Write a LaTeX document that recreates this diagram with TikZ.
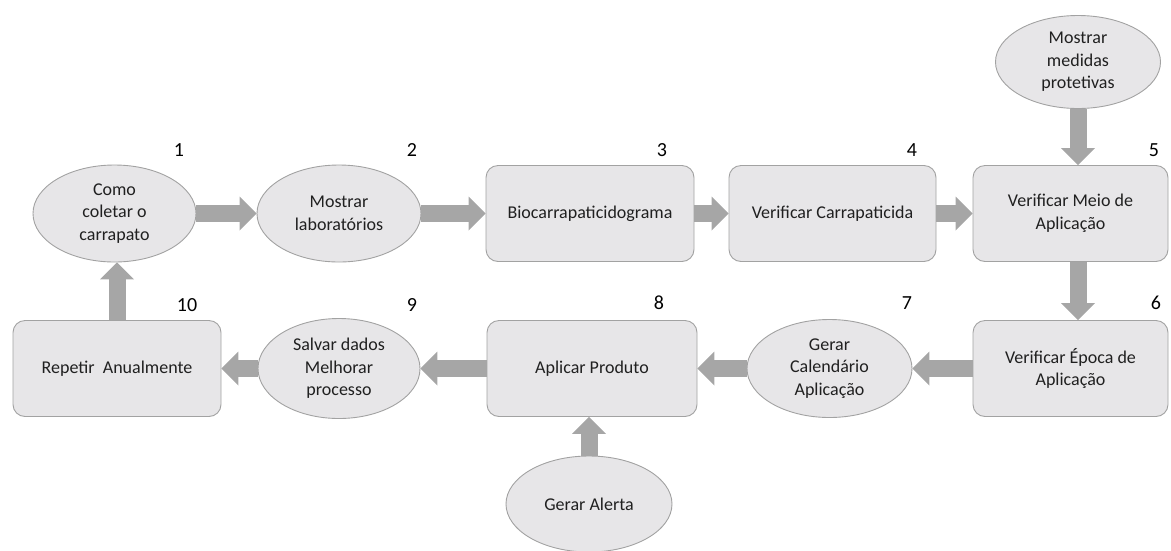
\documentclass[tikz,border=0pt]{standalone}
\usepackage{fontspec}
\setmainfont{Carlito}
\usetikzlibrary{shapes.geometric,arrows.meta}
\definecolor{shapefill}{HTML}{E7E6E8}
\definecolor{shapeline}{HTML}{A2A2A2}
\definecolor{flowgray}{HTML}{A6A6A6}
\definecolor{inkgray}{HTML}{202020}
\tikzset{
  x=1pt, y=-1pt,
  every node/.style={text=inkgray, font=\fontsize{18}{22.5}\selectfont},
  stepbox/.style={draw=shapeline, fill=shapefill, line width=0.9pt, rounded corners=12pt,
    minimum width=208pt, minimum height=96pt, align=center, inner sep=2pt},
  stepoval/.style={ellipse, draw=shapeline, fill=shapefill, line width=0.9pt,
    minimum width=164pt, minimum height=97pt, align=center, inner sep=0pt},
  stepnum/.style={font=\fontsize{20}{22}\selectfont, text=black},
  flow/.style={draw=flowgray, line width=17pt,
    -{Triangle[length=17pt,width=34pt,line width=0pt,fill=flowgray]}}
}
\begin{document}
\begin{tikzpicture}
\useasboundingbox (0,0) rectangle (1171,550);
% top row
\node[stepoval, minimum width=163pt] (e1) at (114.5,213.5) {Como\\coletar o\\carrapato};
\node[stepoval] (e2) at (339,213.5) {Mostrar\\laboratórios};
\node[stepbox] (b3) at (590,213.5) {Biocarrapaticidograma};
\node[stepbox, minimum width=207pt] (b4) at (832.5,213.5) {Verificar Carrapaticida};
\node[stepbox, minimum width=195pt] (b5) at (1070.5,213.5) {Verificar Meio de\\Aplicação};
\node[stepoval, minimum width=165pt, minimum height=93pt] (mtop) at (1078,62) {Mostrar\\medidas\\protetivas};
% bottom row
\node[stepbox, minimum width=195pt] (b6) at (1070.5,368.5) {Verificar Época de\\Aplicação};
\node[stepoval, minimum width=165pt, minimum height=98pt] (e7) at (829.5,368.5) {Gerar\\Calendário\\Aplicação};
\node[stepbox, minimum width=210pt] (b8) at (592,368.5) {Aplicar Produto};
\node[stepoval, minimum width=166pt, minimum height=96pt] (alert) at (589,504) {Gerar Alerta};
\node[stepoval, minimum width=162pt, minimum height=100pt] (e9) at (339,368.5) {Salvar dados\\Melhorar\\processo};
\node[stepbox] (b10) at (117,368.5) {Repetir \ Anualmente};
% step numbers
\node[stepnum] (n1) at (179,150) {1};
\node[stepnum] (n2) at (412,150) {2};
\node[stepnum] (n3) at (662,150) {3};
\node[stepnum] (n4) at (912,150) {4};
\node[stepnum] (n5) at (1154,150) {5};
\node[stepnum] (n6) at (1156,303) {6};
\node[stepnum] (n7) at (907,303) {7};
\node[stepnum] (n8) at (659,303) {8};
\node[stepnum] (n9) at (412,305) {9};
\node[stepnum] (n10) at (187,305) {10};
% flow arrows
\draw[flow] (e1) -- (e2);
\draw[flow] (e2) -- (b3);
\draw[flow] (b3) -- (b4);
\draw[flow] (b4) -- (b5);
\draw[flow] (mtop.south) -- (mtop.south |- b5.north);
\draw[flow] (b5.south -| mtop.south) -- (b6.north -| mtop.south);
\draw[flow] (b6) -- (e7);
\draw[flow] (e7) -- (b8);
\draw[flow] (alert.north) -- (alert.north |- b8.south);
\draw[flow] (b8) -- (e9);
\draw[flow] (e9) -- (b10);
\draw[flow] (b10.north) -- (b10.north |- e1.south);
\end{tikzpicture}
\end{document}
